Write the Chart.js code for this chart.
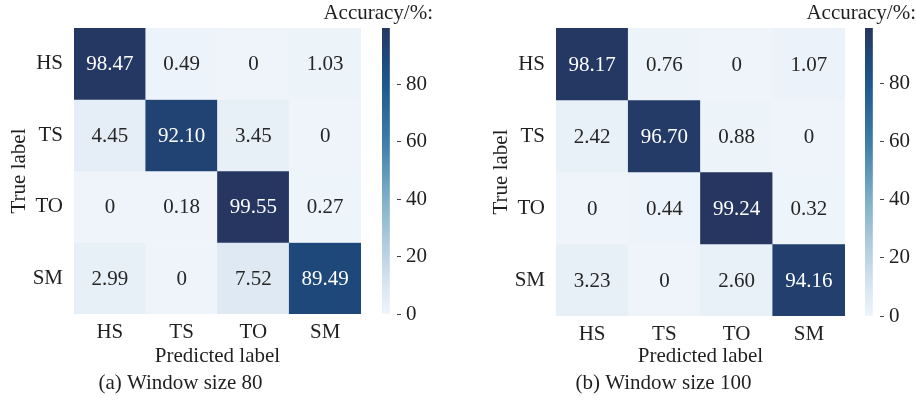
<!DOCTYPE html>
<html>
<head>
<meta charset="utf-8">
<script src="https://cdn.jsdelivr.net/npm/chart.js@4.4.0/dist/chart.umd.min.js"></script>
<style>
  html, body { margin: 0; padding: 0; background: #ffffff; }
  #wrap { position: relative; width: 916px; height: 401px; overflow: hidden; background: #ffffff; }
  #wrap canvas { position: absolute; top: 0; }
  .warm { position: absolute; left: -9999px; top: 0; font-family: "Liberation Serif"; font-size: 21px; }
</style>
</head>
<body>
<div class="warm">Accuracy HS TS TO SM 0123456789</div>
<div id="wrap">
  <canvas id="matA" width="375" height="401" style="left:0px"></canvas>
  <canvas id="barA" width="113" height="401" style="left:320px"></canvas>
  <canvas id="matB" width="859" height="401" style="left:0px"></canvas>
  <canvas id="barB" width="113" height="401" style="left:803px"></canvas>
</div>
<script>
// Class names (rows = true label, columns = predicted label)
const classes = ['HS', 'TS', 'TO', 'SM'];

// Window size 80: accuracy (%) per true-label row
const w80HS = [98.47, 0.49, 0, 1.03];
const w80TS = [4.45, 92.10, 3.45, 0];
const w80TO = [0, 0.18, 99.55, 0.27];
const w80SM = [2.99, 0, 7.52, 89.49];

// Window size 100: accuracy (%) per true-label row
const w100HS = [98.17, 0.76, 0, 1.07];
const w100TS = [2.42, 96.70, 0.88, 0];
const w100TO = [0, 0.44, 99.24, 0.32];
const w100SM = [3.23, 0, 2.60, 94.16];

// Colour bar tick values
const barTicks = [0, 20, 40, 60, 80];

// Panel captions
const captionA = '(a) Window size 80';
const captionB = '(b) Window size 100';

const FONT = 'Liberation Serif';
const INK = '#1f1f1f';

// Light-to-navy sequential colour map
const cmapStops = [
  [0.00, [238, 244, 250]],
  [0.10, [217, 230, 241]],
  [0.20, [190, 212, 228]],
  [0.40, [128, 176, 200]],
  [0.60, [62, 126, 168]],
  [0.80, [31, 88, 142]],
  [0.90, [30, 72, 122]],
  [1.00, [38, 54, 97]]
];

function cmap(t) {
  t = Math.max(0, Math.min(1, t));
  for (let i = 1; i < cmapStops.length; i++) {
    const [t1, c1] = cmapStops[i];
    const [t0, c0] = cmapStops[i - 1];
    if (t <= t1) {
      const f = (t - t0) / (t1 - t0);
      const c = c0.map((v, k) => Math.round(v + (c1[k] - v) * f));
      return `rgb(${c[0]},${c[1]},${c[2]})`;
    }
  }
  const c = cmapStops[cmapStops.length - 1][1];
  return `rgb(${c[0]},${c[1]},${c[2]})`;
}

function fmt(v) {
  return v === 0 ? '0' : v.toFixed(2);
}

// Writes each cell's value in its centre
const cellText = {
  id: 'cellText',
  afterDatasetsDraw(chart) {
    const ctx = chart.ctx;
    ctx.save();
    ctx.font = '21px "' + FONT + '"';
    ctx.textAlign = 'center';
    ctx.textBaseline = 'middle';
    chart.data.datasets.forEach((ds, di) => {
      const meta = chart.getDatasetMeta(di);
      meta.data.forEach((bar, ci) => {
        const v = ds.values[ci];
        ctx.fillStyle = v / ds.vmax > 0.5 ? '#ffffff' : '#262626';
        ctx.fillText(fmt(v), bar.x, (bar.y + bar.base) / 2 + 1);
      });
    });
    ctx.restore();
  }
};

function matrixChart(id, rows, caption, box) {
  const vmax = Math.max(...rows.flat());
  const canvas = document.getElementById(id);
  const W = canvas.width;
  const H = canvas.height;
  const captionH = 21 * 1.2 + 5;
  const datasets = rows.map((vals, r) => ({
    label: classes[r],
    values: vals,
    vmax: vmax,
    data: vals.map(() => [r, r + 1]),
    backgroundColor: vals.map(v => cmap(v / vmax)),
    borderWidth: 0,
    borderSkipped: false,
    grouped: false,
    barPercentage: 1,
    categoryPercentage: 1
  }));
  return new Chart(canvas, {
    type: 'bar',
    data: { labels: classes, datasets },
    plugins: [cellText],
    options: {
      responsive: false,
      animation: false,
      events: [],
      layout: { padding: { left: box.left - 74, right: W - box.right, top: box.top, bottom: 0 } },
      plugins: {
        legend: { display: false },
        tooltip: { enabled: false },
        title: {
          display: true,
          position: 'bottom',
          text: caption,
          color: INK,
          font: { family: FONT, size: 21, weight: 'normal', lineHeight: 1.2 },
          padding: { top: 0, bottom: 5 }
        }
      },
      scales: {
        x: {
          type: 'category',
          grid: { display: false, drawTicks: false },
          border: { display: false },
          ticks: { color: INK, padding: 6, font: { family: FONT, size: 21 }, maxRotation: 0 },
          title: {
            display: true, text: 'Predicted label', color: INK,
            font: { family: FONT, size: 21, lineHeight: 1.2 },
            padding: { top: 0, bottom: 2 }
          },
          afterFit(s) { s.height = H - box.bottom - captionH; }
        },
        y: {
          type: 'linear',
          min: 0,
          max: classes.length,
          reverse: true,
          grid: { display: false, drawTicks: false },
          border: { display: false },
          afterBuildTicks(s) { s.ticks = classes.map((c, i) => ({ value: i + 0.5 })); },
          ticks: {
            color: INK, padding: 11, font: { family: FONT, size: 21 },
            callback: (v, i) => classes[i]
          },
          title: {
            display: true, text: 'True label', color: INK,
            font: { family: FONT, size: 21, lineHeight: 1.2 },
            padding: { top: 7, bottom: 0 }
          },
          afterFit(s) { s.width = 74; }
        }
      }
    }
  });
}

function colorBar(id, rows, box) {
  const vmax = Math.max(...rows.flat());
  const canvas = document.getElementById(id);
  const H = canvas.height;
  return new Chart(canvas, {
    type: 'bar',
    data: {
      labels: [''],
      datasets: [{
        data: [vmax],
        borderWidth: 0,
        barPercentage: 1,
        categoryPercentage: 1,
        yAxisID: 'y',
        backgroundColor(ctx) {
          const chart = ctx.chart;
          if (!chart.chartArea) return cmap(1);
          const ys = chart.scales.y;
          const g = chart.ctx.createLinearGradient(0, ys.getPixelForValue(0), 0, ys.getPixelForValue(vmax));
          for (let i = 0; i <= 40; i++) g.addColorStop(i / 40, cmap(i / 40));
          return g;
        }
      }]
    },
    options: {
      responsive: false,
      animation: false,
      events: [],
      layout: { padding: { left: 0, right: 0, top: 0, bottom: H - box.bottom } },
      plugins: {
        legend: { display: false },
        tooltip: { enabled: false },
        title: {
          display: true,
          position: 'top',
          align: 'end',
          text: 'Accuracy/%:',
          color: INK,
          font: { family: FONT, size: 21, weight: 'normal', lineHeight: 1.2 },
          padding: { top: 1, bottom: box.top - 1 - 21 * 1.2 }
        }
      },
      scales: {
        x: { display: false, offset: false },
        spacer: {
          type: 'linear',
          position: 'left',
          display: true,
          grid: { display: false, drawTicks: false },
          border: { display: false },
          ticks: { display: false },
          afterFit(s) { s.width = box.spacer; }
        },
        y: {
          type: 'linear',
          position: 'right',
          min: 0,
          max: vmax,
          grid: { display: true, drawOnChartArea: false, drawTicks: true, tickLength: 4, color: '#444', lineWidth: 1 },
          border: { display: false },
          afterBuildTicks(s) { s.ticks = barTicks.map(v => ({ value: v })); },
          ticks: { color: INK, padding: 5, font: { family: FONT, size: 21 }, includeBounds: false },
          afterFit(s) { s.width = 36; }
        }
      }
    }
  });
}

function drawAll() {
  matrixChart('matA', [w80HS, w80TS, w80TO, w80SM], captionA, { left: 74, right: 361, top: 28, bottom: 314 });
  colorBar('barA', [w80HS, w80TS, w80TO, w80SM], { top: 28, bottom: 314, spacer: 62 });
  matrixChart('matB', [w100HS, w100TS, w100TO, w100SM], captionB, { left: 556, right: 845, top: 28, bottom: 316 });
  colorBar('barB', [w100HS, w100TS, w100TO, w100SM], { top: 28, bottom: 316, spacer: 62 });
}

let drawn = false;
function start() { if (!drawn) { drawn = true; drawAll(); } }
if (document.fonts && document.fonts.load) {
  document.fonts.load('21px "Liberation Serif"').then(start, start);
  setTimeout(start, 1500);
} else {
  start();
}
</script>
</body>
</html>
